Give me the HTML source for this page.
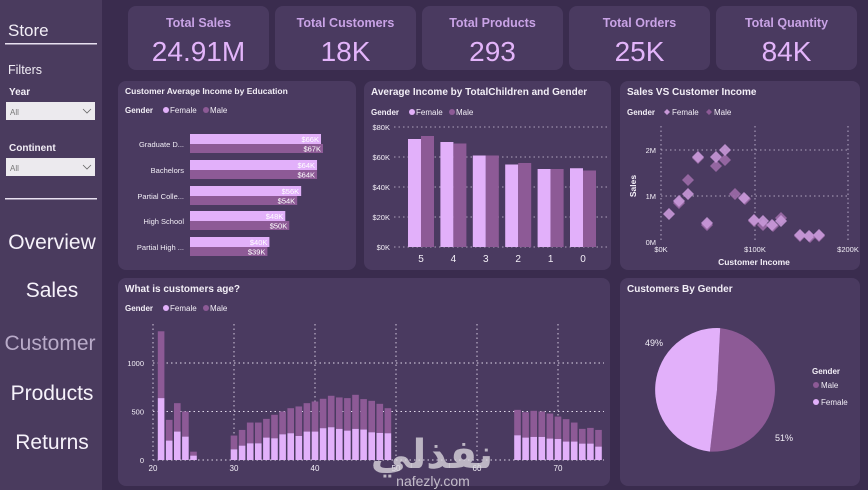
<!DOCTYPE html>
<html><head><meta charset="utf-8">
<style>
html,body{margin:0;padding:0;background:#3a2c4e;}
svg{display:block;font-family:"Liberation Sans","DejaVu Sans",sans-serif;}
</style></head>
<body>
<svg id="s" width="868" height="490" viewBox="0 0 868 490" xmlns="http://www.w3.org/2000/svg">
<rect width="868" height="490" fill="#3a2c4e"/>
<!-- sidebar -->
<rect x="0" y="0" width="102" height="490" fill="#4a3b5e"/>
<text x="8" y="36" font-size="17" fill="#f2eef6">Store</text>
<rect x="5" y="43" width="92" height="1.5" fill="#e8e0f0"/>
<text x="8" y="74" font-size="12.5" fill="#f2eef6">Filters</text>
<text x="9" y="95" font-size="10" font-weight="bold" fill="#f2eef6">Year</text>
<rect x="6" y="102" width="89" height="18" fill="#eceaee"/>
<text x="10" y="115" font-size="8" fill="#777">All</text>
<path d="M83 109 l4 4 l4 -4" fill="none" stroke="#666" stroke-width="0.8"/>
<text x="9" y="151" font-size="10" font-weight="bold" fill="#f2eef6">Continent</text>
<rect x="6" y="158" width="89" height="18" fill="#eceaee"/>
<text x="10" y="171" font-size="8" fill="#777">All</text>
<path d="M83 165 l4 4 l4 -4" fill="none" stroke="#666" stroke-width="0.8"/>
<rect x="5" y="198" width="92" height="1.5" fill="#e8e0f0"/>
<text x="52" y="249" font-size="21" fill="#f6f2fa" text-anchor="middle">Overview</text>
<text x="52" y="297" font-size="21" fill="#f6f2fa" text-anchor="middle">Sales</text>
<text x="50" y="350" font-size="21" fill="#b9abc9" text-anchor="middle">Customer</text>
<text x="52" y="400" font-size="21" fill="#f6f2fa" text-anchor="middle">Products</text>
<text x="52" y="449" font-size="21" fill="#f6f2fa" text-anchor="middle">Returns</text>

<!-- KPI cards -->
<g id="kpi"></g>

<!-- panels -->
<rect x="118" y="81" width="238" height="189" rx="8" fill="#4a3a60"/>
<rect x="364" y="81" width="247" height="189" rx="8" fill="#4a3a60"/>
<rect x="620" y="81" width="240" height="189" rx="8" fill="#4a3a60"/>
<rect x="118" y="278" width="492" height="208" rx="8" fill="#4a3a60"/>
<rect x="620" y="278" width="240" height="208" rx="8" fill="#4a3a60"/>

<!-- Panel 1 -->
<text x="125" y="94" font-size="8.5" font-weight="bold" fill="#f2eef6">Customer Average Income by Education</text>
<text x="125" y="113" font-size="8" font-weight="bold" fill="#f2eef6">Gender</text>
<circle cx="166" cy="110" r="3" fill="#e2b0fa"/><text x="170" y="113" font-size="8" fill="#f2eef6">Female</text>
<circle cx="206" cy="110" r="3" fill="#8d5a96"/><text x="210" y="113" font-size="8" fill="#f2eef6">Male</text>
<g id="p1"></g>

<!-- Panel 2 -->
<text x="371" y="95" font-size="10" font-weight="bold" fill="#f2eef6">Average Income by TotalChildren and Gender</text>
<text x="371" y="115" font-size="8" font-weight="bold" fill="#f2eef6">Gender</text>
<circle cx="412" cy="112" r="3" fill="#e2b0fa"/><text x="416" y="115" font-size="8" fill="#f2eef6">Female</text>
<circle cx="452" cy="112" r="3" fill="#8d5a96"/><text x="456" y="115" font-size="8" fill="#f2eef6">Male</text>
<g id="p2"></g>

<!-- Panel 3 -->
<text x="627" y="95" font-size="10" font-weight="bold" fill="#f2eef6">Sales VS Customer Income</text>
<text x="627" y="115" font-size="8" font-weight="bold" fill="#f2eef6">Gender</text>
<path d="M667 109 l3 3 l-3 3 l-3 -3z" fill="#c898d8"/><text x="672" y="115" font-size="8" fill="#f2eef6">Female</text>
<path d="M709 109 l3 3 l-3 3 l-3 -3z" fill="#8d5a96"/><text x="714" y="115" font-size="8" fill="#f2eef6">Male</text>
<g id="p3"></g>

<!-- Panel 4 -->
<text x="125" y="292" font-size="10" font-weight="bold" fill="#f2eef6">What is customers age?</text>
<text x="125" y="311" font-size="8" font-weight="bold" fill="#f2eef6">Gender</text>
<circle cx="166" cy="308" r="3" fill="#e2b0fa"/><text x="170" y="311" font-size="8" fill="#f2eef6">Female</text>
<circle cx="206" cy="308" r="3" fill="#8d5a96"/><text x="210" y="311" font-size="8" fill="#f2eef6">Male</text>
<g id="p4"></g>

<!-- Panel 5 -->
<text x="627" y="292" font-size="10" font-weight="bold" fill="#f2eef6">Customers By Gender</text>
<path d="M717 390 L720.2 328.1 A62 62 0 0 1 709.9 451.6 Z" fill="#8d5a96"/>
<path d="M717 390 L709.9 451.6 A62 62 0 0 1 720.2 328.1 Z" fill="#e2b0fa"/>
<text x="645" y="346" font-size="9" fill="#f2eef6">49%</text>
<text x="775" y="441" font-size="9" fill="#f2eef6">51%</text>
<text x="812" y="374" font-size="8" font-weight="bold" fill="#f2eef6">Gender</text>
<circle cx="816" cy="385" r="3" fill="#8d5a96"/><text x="821" y="388" font-size="8" fill="#f2eef6">Male</text>
<circle cx="816" cy="402" r="3" fill="#e2b0fa"/><text x="821" y="405" font-size="8" fill="#f2eef6">Female</text>

<!-- watermark -->
<text x="432" y="468" font-size="40" font-weight="bold" fill="#d8d4dc" fill-opacity="0.8" text-anchor="middle" font-family="'DejaVu Sans',sans-serif">نفذلي</text>
<text x="433" y="486" font-size="14" fill="#d8d4dc" fill-opacity="0.85" text-anchor="middle">nafezly.com</text>
</svg>
<script>
const NS="http://www.w3.org/2000/svg";
function el(p,t,a,txt){const e=document.createElementNS(NS,t);for(const k in a)e.setAttribute(k,a[k]);if(txt!==undefined)e.textContent=txt;p.appendChild(e);return e;}
const F="#e2b0fa",M="#8d5a96",W="#f2eef6";
// KPI
const kpi=document.getElementById("kpi");
[["Total Sales","24.91M"],["Total Customers","18K"],["Total Products","293"],["Total Orders","25K"],["Total Quantity","84K"]].forEach((d,i)=>{
 const x=128+i*147;
 el(kpi,"rect",{x:x,y:6,width:141,height:64,rx:8,fill:"#4a3a60"});
 el(kpi,"text",{x:x+70.5,y:27,"font-size":12.5,"font-weight":"bold",fill:"#c9a3e6","text-anchor":"middle"},d[0]);
 el(kpi,"text",{x:x+70.5,y:61,"font-size":28,fill:"#e3b4fa","text-anchor":"middle"},d[1]);
});
// P1
const p1=document.getElementById("p1");
[["Graduate D...",66,67,134],["Bachelors",64,64,160],["Partial Colle...",56,54,186],["High School",48,50,211],["Partial High ...",40,39,237]].forEach(d=>{
 const s=1.985;
 el(p1,"text",{x:184,y:d[3]+13,"font-size":7.5,fill:W,"text-anchor":"end"},d[0]);
 el(p1,"rect",{x:190,y:d[3],width:d[1]*s,height:10,fill:F});
 el(p1,"rect",{x:190,y:d[3]+10,width:d[2]*s,height:9,fill:M});
 el(p1,"text",{x:188+d[1]*s,y:d[3]+8,"font-size":7.5,fill:"#fff","text-anchor":"end"},"$"+d[1]+"K");
 el(p1,"text",{x:188+d[2]*s,y:d[3]+17.5,"font-size":7.5,fill:"#fff","text-anchor":"end"},"$"+d[2]+"K");
});
// P2
const p2=document.getElementById("p2");
for(let v=0;v<=80;v+=20){const y=247-v*1.5;
 el(p2,"line",{x1:394,x2:607,y1:y,y2:y,stroke:"#cfc4dc","stroke-dasharray":"1.5,3","stroke-width":0.8});
 el(p2,"text",{x:390,y:y+3,"font-size":7.5,fill:W,"text-anchor":"end"},"$"+v+"K");}
[[5,72,74],[4,70,69],[3,61,61],[2,55,56],[1,52,52],[0,52.5,51]].forEach((d,i)=>{
 const c=421+i*32.4;
 el(p2,"rect",{x:c-13,y:247-d[1]*1.5,width:13,height:d[1]*1.5,fill:F});
 el(p2,"rect",{x:c,y:247-d[2]*1.5,width:13,height:d[2]*1.5,fill:M});
 el(p2,"text",{x:c,y:262,"font-size":10,fill:W,"text-anchor":"middle"},d[0]);
});
// P3
const p3=document.getElementById("p3");
[661,755,848].forEach(x=>el(p3,"line",{x1:x,x2:x,y1:126,y2:242,stroke:"#cfc4dc","stroke-dasharray":"1.5,3","stroke-width":0.8}));
[150,196].forEach(y=>el(p3,"line",{x1:661,x2:848,y1:y,y2:y,stroke:"#cfc4dc","stroke-dasharray":"1.5,3","stroke-width":0.8}));
[["2M",153],["1M",199],["0M",245]].forEach(d=>el(p3,"text",{x:656,y:d[1],"font-size":7.5,fill:W,"text-anchor":"end"},d[0]));
[["$0K",661],["$100K",755],["$200K",848]].forEach(d=>el(p3,"text",{x:d[1],y:252,"font-size":7.5,fill:W,"text-anchor":"middle"},d[0]));
el(p3,"text",{x:754,y:265,"font-size":8.5,"font-weight":"bold",fill:W,"text-anchor":"middle"},"Customer Income");
el(p3,"text",{x:636,y:186,"font-size":8.5,"font-weight":"bold",fill:W,"text-anchor":"middle",transform:"rotate(-90 636 186)"},"Sales");
[[669,214,1],[679,203,0],[679,201,1],[688,180,0],[688,194,1],[698,158,0],[698,157,1],[707,225,0],[707,223,1],[716,166,0],[716,157,1],[725,160,0],[725,150,1],[735,194,0],[745,199,0],[744,198,1],[754,221,0],[754,220,1],[763,225,0],[763,221,1],[773,226,0],[772,225,1],[781,218,0],[781,221,1],[800,236,0],[800,235,1],[810,237,0],[809,236,1],[819,236,0],[819,235,1]].forEach(d=>{
 el(p3,"path",{d:`M${d[0]} ${d[1]-6} l6 6 l-6 6 l-6 -6z`,fill:d[2]?"#c898d8":"#9c6ba8","fill-opacity":0.9});
});
// P4
const p4=document.getElementById("p4");
const y0=460,sc=0.097;
[20,30,40,50,60,70].forEach(a=>{const x=153+(a-20)*8.1;
 el(p4,"line",{x1:x,x2:x,y1:324,y2:460,stroke:"#e0d8ea","stroke-dasharray":"1.5,3","stroke-width":0.9});
 el(p4,"text",{x:x,y:471,"font-size":8,fill:W,"text-anchor":"middle"},a);});
[[0,"0"],[500,"500"],[1000,"1000"]].forEach(d=>{const y=y0-d[0]*sc;
 el(p4,"line",{x1:153,x2:604,y1:y,y2:y,stroke:"#e0d8ea","stroke-dasharray":"1.5,3","stroke-width":0.9});
 el(p4,"text",{x:144,y:y+3,"font-size":7.5,fill:W,"text-anchor":"end"},d[1]);});
const ages={21:[1327,638],22:[414,200],23:[586,293],24:[500,241],25:[86,45],30:[252,110],31:[310,148],32:[386,172],33:[386,172],34:[424,231],35:[466,224],36:[500,265],37:[534,276],38:[552,248],39:[586,293],40:[603,293],41:[631,328],42:[662,338],43:[645,321],44:[638,303],45:[672,321],46:[628,314],47:[610,286],48:[579,279],49:[534,276],65:[517,255],66:[493,231],67:[507,238],68:[500,238],69:[479,221],70:[448,217],71:[421,190],72:[386,190],73:[321,169],74:[331,169],75:[310,138]};
for(const a in ages){const d=ages[a],x=153+(a-20)*8.1-3.3;
 el(p4,"rect",{x:x,y:y0-d[0]*sc,width:6.6,height:(d[0]-d[1])*sc,fill:M});
 el(p4,"rect",{x:x,y:y0-d[1]*sc,width:6.6,height:d[1]*sc,fill:F});}
</script>
</body></html>
